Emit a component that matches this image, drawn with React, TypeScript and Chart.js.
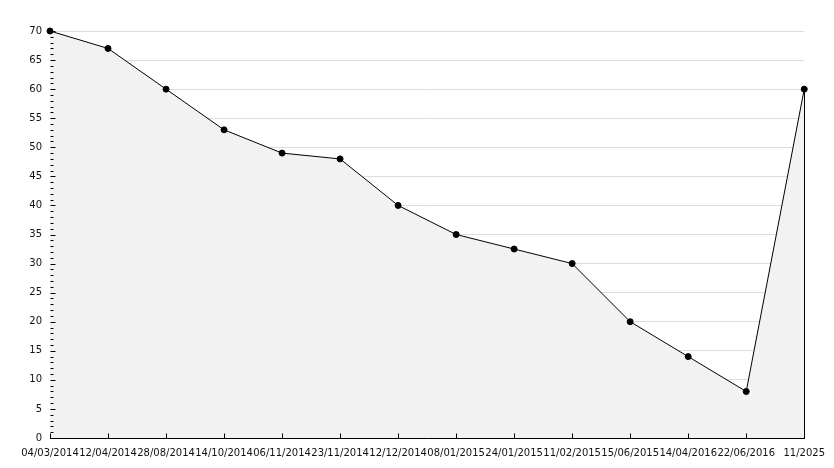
import React, { useEffect, useRef } from "react";
import { Chart, registerables } from "chart.js";

Chart.register(...registerables);

const categories = [
  "04/03/2014", "12/04/2014", "28/08/2014", "14/10/2014", "06/11/2014", "23/11/2014",
  "12/12/2014", "08/01/2015", "24/01/2015", "11/02/2015", "15/06/2015", "14/04/2016",
  "22/06/2016", "11/2025",
];
const values = [70, 67, 60, 53, 49, 48, 40, 35, 32.5, 30, 20, 14, 8, 60];
const yMin = 0;
const yMax = 70;
const yStep = 5;
const yMinorStep = 1;

const tickPlugin = {
  id: "insideTicks",
  afterDatasetsDraw(chart: any) {
    const { ctx, chartArea, scales } = chart;
    const x = scales.x;
    const y = scales.y;
    ctx.save();
    ctx.strokeStyle = "#000";
    ctx.lineWidth = 1;
    ctx.beginPath();
    const lastX = Math.round(x.getPixelForValue(categories.length - 1)) + 0.5;
    ctx.moveTo(lastX, y.getPixelForValue(values[values.length - 1]));
    ctx.lineTo(lastX, chartArea.bottom);
    const left = Math.round(chartArea.left) + 0.5;
    for (let v = yMin; v <= yMax; v += yMinorStep) {
      const py = Math.round(y.getPixelForValue(v)) + 0.5;
      const len = v % yStep === 0 ? 5 : 3;
      ctx.moveTo(left, py);
      ctx.lineTo(left + len, py);
    }
    const bottom = Math.round(chartArea.bottom) + 0.5;
    for (let i = 0; i < categories.length; i++) {
      const px = Math.round(x.getPixelForValue(i)) + 0.5;
      ctx.moveTo(px, bottom);
      ctx.lineTo(px, bottom - 5);
    }
    ctx.stroke();
    ctx.restore();
  },
};

export default function App() {
  const ref = useRef<HTMLCanvasElement>(null);
  useEffect(() => {
    document.body.style.margin = "0";
    const chart = new Chart(ref.current!, {
      type: "line",
      data: {
        labels: categories,
        datasets: [
          {
            data: values,
            borderColor: "#000",
            borderWidth: 1,
            backgroundColor: "#f2f2f2",
            fill: "origin",
            tension: 0,
            clip: false,
            pointRadius: 3,
            pointBackgroundColor: "#000",
            pointBorderColor: "#000",
            pointBorderWidth: 1,
          },
        ],
      },
      options: {
        animation: false,
        responsive: false,
        maintainAspectRatio: false,
        layout: { padding: { left: 0, top: 31, right: 28, bottom: 0 } },
        plugins: { legend: { display: false }, tooltip: { enabled: false } },
        scales: {
          x: {
            type: "category",
            offset: false,
            grid: { display: false, drawTicks: false },
            border: { display: true, color: "#000", width: 1 },
            ticks: {
              autoSkip: false,
              maxRotation: 0,
              minRotation: 0,
              padding: 9,
              color: "#111",
              font: { family: "DejaVu Sans", size: 10 },
            },
            afterFit(scale: any) {
              scale.height = 30;
            },
          },
          y: {
            min: yMin,
            max: yMax,
            grid: { color: "#dddddd", drawTicks: false },
            border: { display: true, color: "#000", width: 1 },
            ticks: {
              stepSize: yStep,
              padding: 8,
              color: "#111",
              font: { family: "DejaVu Sans", size: 10 },
            },
            afterFit(scale: any) {
              scale.width = 50;
            },
          },
        },
      },
      plugins: [tickPlugin],
    });
    return () => chart.destroy();
  }, []);
  return <canvas ref={ref} width={834} height={468} style={{ display: "block" }} />;
}
